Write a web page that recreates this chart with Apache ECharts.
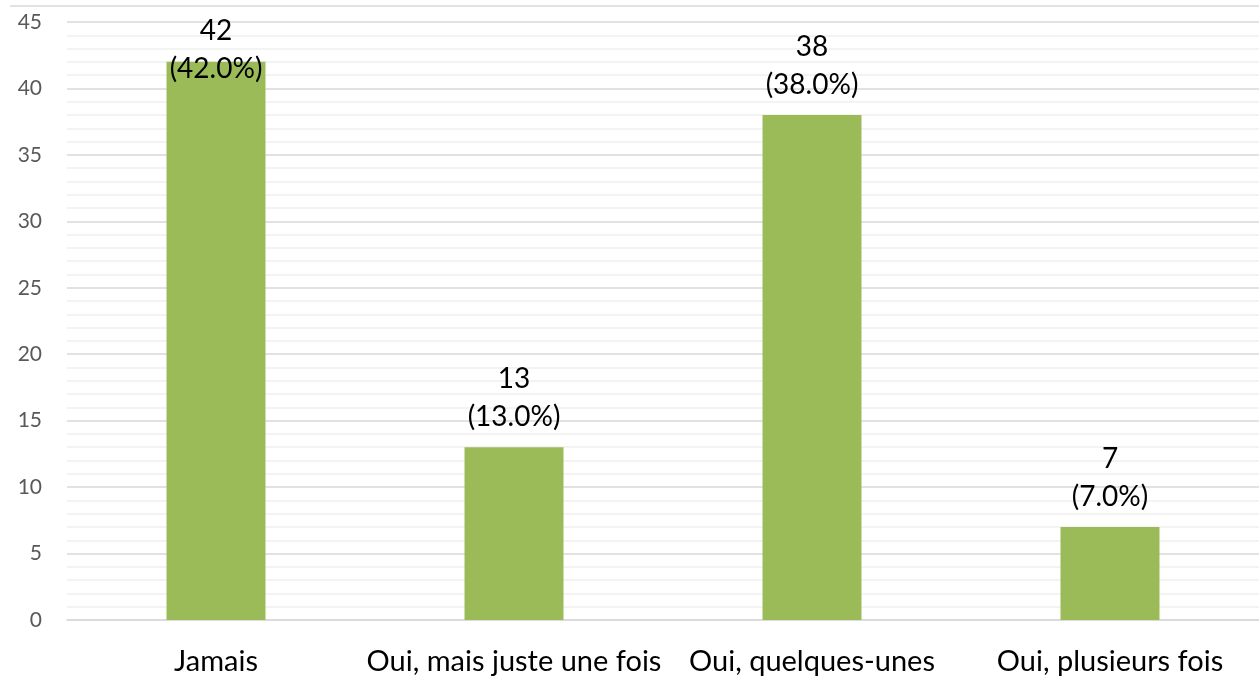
<!DOCTYPE html>
<html>
<head>
<meta charset="utf-8">
<script src="https://cdn.jsdelivr.net/npm/echarts@6/dist/echarts.min.js"></script>
<style>
  html, body { margin: 0; padding: 0; background: #fff; }
  #chart { width: 1259px; height: 679px; }
</style>
</head>
<body>
<div id="chart"></div>
<script>
// Survey answers and respondent counts
const categories = ['Jamais', 'Oui, mais juste une fois', 'Oui, quelques-unes', 'Oui, plusieurs fois'];
const counts = [42, 13, 38, 7];
const percents = [42.0, 13.0, 38.0, 7.0];

const yMin = 0, yMax = 45, yStep = 5;

const chart = echarts.init(document.getElementById('chart'));

const gridTop = 22, gridHeight = 598;
const labelGap = 11, labelLine = 38;

// Push a value label down when it would run past the top of the chart
function labelOffset(v) {
  const barTop = gridTop + (yMax - v) / (yMax - yMin) * gridHeight;
  const labelTop = barTop - labelGap - 2 * labelLine;
  return labelTop < 12 ? [0, 12 - labelTop] : [0, 0];
}

chart.setOption({
  animation: false,
  textStyle: { fontFamily: 'Lato' },
  grid: { left: 67, width: 1194, top: gridTop, height: gridHeight },
  xAxis: {
    type: 'category',
    data: categories,
    axisLine: { lineStyle: { color: '#d9d9d9', width: 1.5 } },
    axisTick: { show: false },
    axisLabel: { color: '#000', fontSize: 29, margin: 27, interval: 0, fontFamily: 'Lato' }
  },
  yAxis: {
    type: 'value',
    min: yMin, max: yMax, interval: yStep,
    axisLine: { show: false },
    axisTick: { show: false },
    axisLabel: { color: '#595959', fontSize: 21, margin: 25, fontFamily: 'Lato' },
    splitLine: { lineStyle: { color: '#d9d9d9', width: 1.5 } },
    minorTick: { show: false, splitNumber: 5 },
    minorSplitLine: { show: true, lineStyle: { color: '#efefef', width: 1.5 } }
  },
  series: [{
    type: 'bar',
    barWidth: 99,
    itemStyle: { color: '#9bbb59' },
    data: counts.map((v, i) => ({
      value: v,
      label: { offset: labelOffset(v) }
    })),
    label: {
      show: true,
      position: 'top',
      distance: labelGap,
      color: '#000',
      fontSize: 28,
      lineHeight: labelLine,
      fontFamily: 'Lato',
      formatter: p => p.value + '\n(' + percents[p.dataIndex].toFixed(1) + '%)'
    }
  }],
  graphic: [{
    type: 'line',
    shape: { x1: 10, y1: 6, x2: 1259, y2: 6 },
    style: { stroke: '#d9d9d9', lineWidth: 1.5 }
  }]
});
</script>
</body>
</html>
